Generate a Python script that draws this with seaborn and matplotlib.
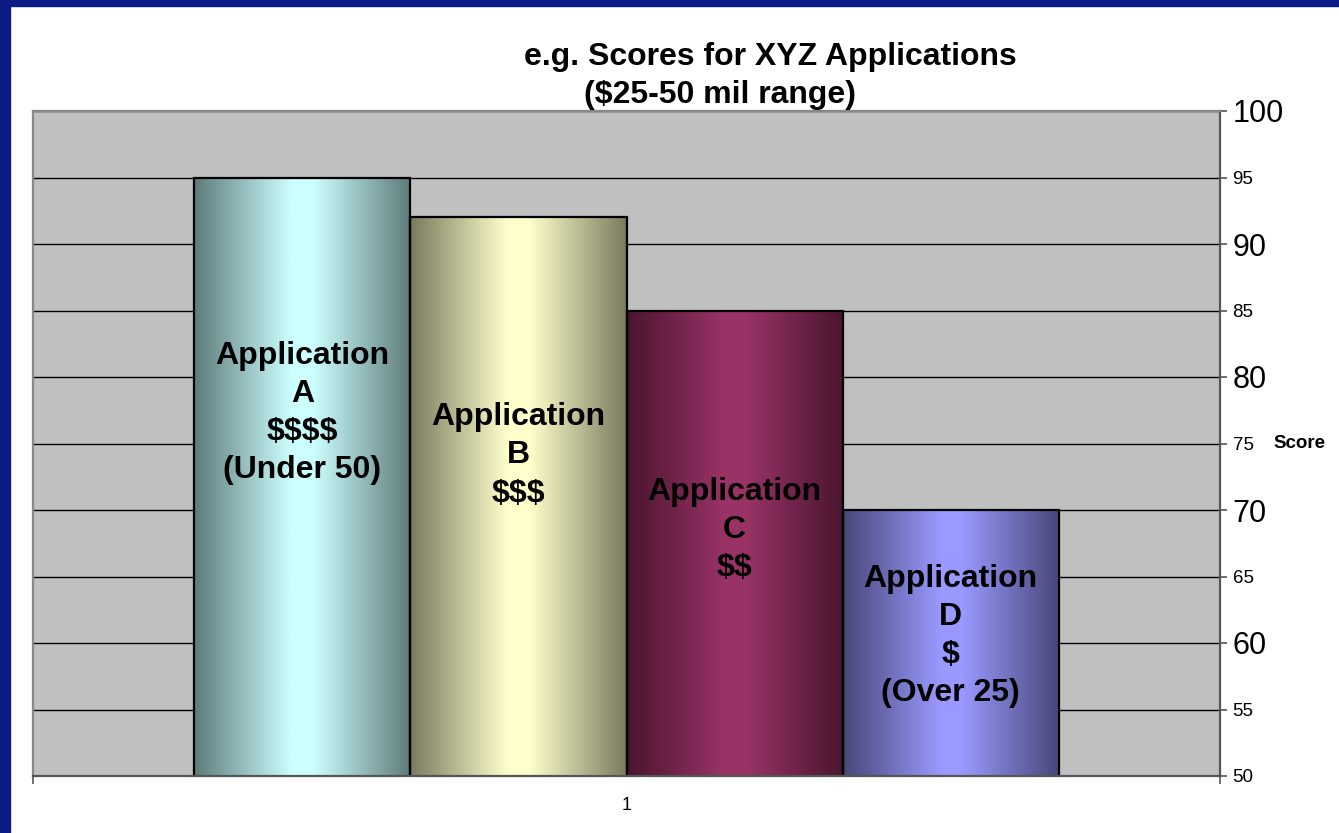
import numpy as np
import pandas as pd
import matplotlib
matplotlib.use("Agg")
import matplotlib.pyplot as plt
import matplotlib.transforms as mtransforms
from matplotlib.colors import LinearSegmentedColormap
from matplotlib.patches import Rectangle
import seaborn as sns

# ---- data ----
categories = ["1"]
apps = ["Application A", "Application B", "Application C", "Application D"]
scores = [95, 92, 85, 70]
bar_labels = ["Application\nA\n$$$$\n(Under 50)",
              "Application\nB\n$$$",
              "Application\nC\n$$",
              "Application\nD\n$\n(Over 25)"]
y_ticks = [50, 55, 60, 65, 70, 75, 80, 85, 90, 95, 100]
big_ticks = [60, 70, 80, 90, 100]
title_line1 = "e.g. Scores for XYZ Applications"
title_line2 = "($25-50 mil range)"
axis_label = "Score"

# ---- style ----
light = ["#ccffff", "#ffffcc", "#993366", "#9999ff"]
dark = ["#5f7b7b", "#7a7a5e", "#4a1530", "#474778"]
label_y = [77.3, 74.1, 68.5, 60.5]

plt.rcParams['font.family'] = ['Liberation Sans', 'DejaVu Sans']
plt.rcParams['text.parse_math'] = False

fig = plt.figure(figsize=(13.39, 8.33), dpi=100)
fig.patch.set_facecolor("white")
# slide frame (blue) at the top and left
fig.patches.append(Rectangle((0, 0), 10 / 1339, 1, transform=fig.transFigure,
                             color="#0b1a84", zorder=0))
fig.patches.append(Rectangle((0, 1 - 6 / 833), 1, 6 / 833, transform=fig.transFigure,
                             color="#0b1a84", zorder=0))

ax = fig.add_axes([33 / 1339, 57 / 833, (1220 - 33) / 1339, (776 - 111) / 833])
ax.set_facecolor("#c0c0c0")

df = pd.DataFrame({"group": categories * len(apps), "app": apps, "score": scores})
sns.barplot(data=df, x="group", y="score", hue="app", hue_order=apps,
            palette=light, saturation=1, width=0.728, edgecolor="black",
            linewidth=1.6, legend=False, ax=ax)

ax.set_xlim(-0.5, 0.5)
ax.set_ylim(50, 100)
ymin = ax.get_ylim()[0]

grad = np.linspace(0, 1, 256).reshape(1, -1)
bars = list(ax.patches)[:len(apps)]
for p, d, l, txt, ly in zip(bars, dark, light, bar_labels, label_y):
    x0, y0, w, h = p.get_x(), p.get_y(), p.get_width(), p.get_height()
    cmap = LinearSegmentedColormap.from_list("g", [(0, d), (0.45, l), (0.55, l), (1, d)])
    im = ax.imshow(grad, extent=[x0, x0 + w, max(y0, ymin), y0 + h], aspect="auto",
                   cmap=cmap, zorder=3, interpolation="bilinear")
    p.set_facecolor("none")
    p.set_zorder(4)
    ax.text(x0 + w / 2, ly, txt, ha="center", va="center", fontsize=23,
            fontweight="bold", color="black", zorder=5, linespacing=1.35,
            parse_math=False)

ax.set_xlim(-0.5, 0.5)
ax.set_ylim(50, 100)
ax.set_xlabel("")
ax.set_ylabel("")

# grid
ax.set_axisbelow(True)
ax.yaxis.grid(True, color="black", linewidth=1.0)
ax.xaxis.grid(False)

# y axis on the right
ax.yaxis.tick_right()
ax.set_yticks(y_ticks)
ax.set_yticklabels([str(v) for v in y_ticks])
for t, v in zip(ax.get_yticklabels(), y_ticks):
    t.set_fontsize(22 if v in big_ticks else 13.5)
ax.tick_params(axis="y", which="major", length=5, width=1.2, color="#555555",
               pad=4, labelcolor="black")

# x axis
ax.tick_params(axis="x", which="major", length=0, pad=15, labelsize=13)
ax.set_xticks([-0.5, 0.5], minor=True)
ax.tick_params(axis="x", which="minor", length=6, width=1.2, color="#555555",
               direction="out")

for side, col in [("left", "#888888"), ("top", "#888888"),
                  ("right", "#555555"), ("bottom", "#555555")]:
    ax.spines[side].set_color(col)
    ax.spines[side].set_linewidth(1.6)
    ax.spines[side].set_zorder(6)

# axis label "Score"
trans = mtransforms.blended_transform_factory(fig.transFigure, ax.transData)
ax.text(1273 / 1339, 75, axis_label, transform=trans, ha="left", va="center",
        fontsize=13.5, fontweight="bold")

# title
fig.text(770 / 1339, 1 - 57 / 833, title_line1, ha="center", va="center",
         fontsize=23, fontweight="bold", parse_math=False)
fig.text(720 / 1339, 1 - 95 / 833, title_line2, ha="center", va="center",
         fontsize=23, fontweight="bold", parse_math=False)

fig.savefig("out.png", dpi=100, facecolor=fig.get_facecolor())
